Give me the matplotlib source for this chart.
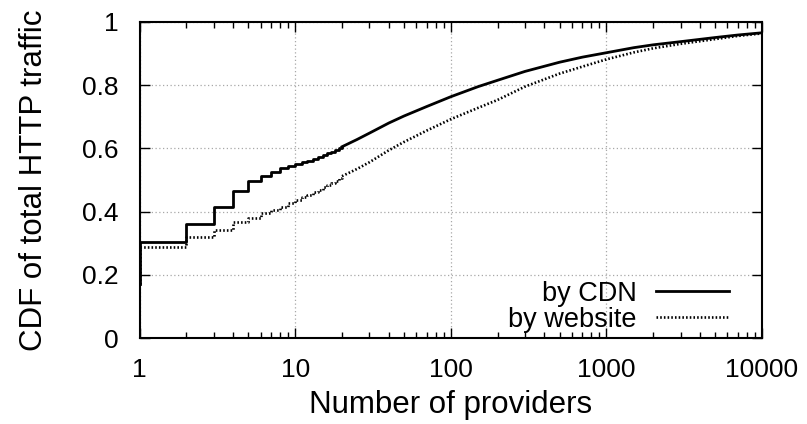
import numpy as np
import matplotlib
matplotlib.use('Agg')
from matplotlib import pyplot as plt
from matplotlib.ticker import LogLocator, FixedLocator, NullFormatter

plt.rcParams['font.family'] = ['Liberation Sans', 'DejaVu Sans']

# step part (integer provider counts)
cdnStepN = [1, 1, 2, 3, 4, 5, 6, 7, 8, 9, 10, 11, 12, 13, 14, 15, 16, 17, 18, 19, 20]
cdnStep = [0.17, 0.305, 0.361, 0.415, 0.465, 0.498, 0.513, 0.526, 0.537, 0.544, 0.550,
           0.556, 0.561, 0.567, 0.573, 0.579, 0.585, 0.590, 0.595, 0.600, 0.605]
# smooth part
cdnN = [20, 25, 30, 40, 50, 70, 100, 150, 200, 300, 500, 700, 1000, 1500, 2000, 3000,
        5000, 7000, 10000]
cdn = [0.605, 0.628, 0.648, 0.680, 0.702, 0.732, 0.763, 0.795, 0.815, 0.843, 0.872,
       0.888, 0.902, 0.918, 0.927, 0.937, 0.950, 0.958, 0.965]

webStepN = [1, 1, 2, 3, 4, 5, 6, 7, 8, 9, 10, 11, 12, 13, 14, 15, 16, 17, 18, 19, 20]
webStep = [0.17, 0.289, 0.321, 0.342, 0.366, 0.379, 0.395, 0.405, 0.416, 0.426, 0.437,
           0.445, 0.453, 0.461, 0.469, 0.477, 0.484, 0.491, 0.498, 0.505, 0.512]
webN = [20, 25, 30, 40, 50, 70, 100, 150, 200, 300, 500, 700, 1000, 1500, 2000, 3000,
        5000, 7000, 10000]
web = [0.512, 0.535, 0.556, 0.594, 0.620, 0.656, 0.692, 0.728, 0.753, 0.795, 0.836,
       0.858, 0.881, 0.903, 0.916, 0.930, 0.945, 0.955, 0.963]

xTicks = [1, 10, 100, 1000, 10000]
xTickLabels = ['1', '10', '100', '1000', '10000']
yTicks = [0, 0.2, 0.4, 0.6, 0.8, 1]
yTickLabels = ['0', '0.2', '0.4', '0.6', '0.8', '1']


def makePlot():
    fig = plt.figure(figsize=(8.07, 4.24), dpi=100)
    ax = fig.add_axes([0.1729, 0.2021, 0.7713, 0.7467])

    dots = (0, (0.6, 0.8))
    ax.plot(cdnStepN, cdnStep, color='black', lw=2.0, drawstyle='steps-post')
    ax.plot(cdnN, cdn, color='black', lw=2.0, label='by CDN')
    ax.plot(webStepN, webStep, color='black', lw=1.9, ls=dots, drawstyle='steps-post')
    ax.plot(webN, web, color='black', lw=1.9, ls=dots, label='by website')

    ax.set_xscale('log')
    ax.set_xlim(1, 10000)
    ax.set_ylim(0, 1)
    ax.xaxis.set_major_locator(FixedLocator(xTicks))
    ax.set_xticklabels(xTickLabels)
    ax.xaxis.set_minor_locator(LogLocator(base=10, subs=np.arange(2, 10)))
    ax.xaxis.set_minor_formatter(NullFormatter())
    ax.set_yticks(yTicks)
    ax.set_yticklabels(yTickLabels)

    ax.tick_params(which='major', direction='in', length=7, width=1.0,
                   top=True, right=True, labelsize=19)
    ax.tick_params(axis='y', which='major', pad=15)
    ax.tick_params(axis='x', which='major', pad=14)
    ax.tick_params(which='minor', direction='in', length=4, width=1.0,
                   top=True, right=True)
    for s in ax.spines.values():
        s.set_linewidth(1.5)

    ax.grid(True, which='major', color='#a8a8a8', ls=(0, (1, 2)), lw=0.9)

    ax.set_xlabel('Number of providers', fontsize=22.5, labelpad=6)
    ax.set_ylabel('CDF of total HTTP traffic', fontsize=22.5, labelpad=24)

    ax.legend(loc='lower right', bbox_to_anchor=(0.947, 0.017), frameon=False,
              markerfirst=False, fontsize=19.5, handlelength=2.7, handletextpad=0.7,
              labelspacing=0.0, borderaxespad=0.0, borderpad=0.0)

    fig.savefig('out.png', dpi=100)


def main():
    makePlot()


if __name__ == '__main__':
    main()
